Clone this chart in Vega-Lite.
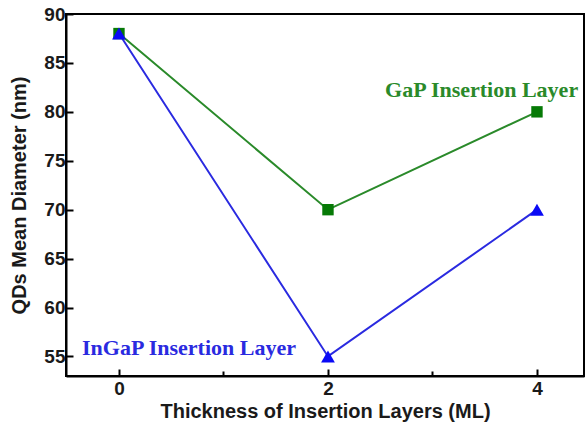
{
  "$schema": "https://vega.github.io/schema/vega-lite/v6.json",
  "autosize": "none",
  "width": 518,
  "height": 362,
  "padding": {"left": 66, "top": 14, "right": 1, "bottom": 52},
  "background": "white",
  "config": {
    "view": {"stroke": "black", "strokeWidth": 2},
    "axis": {
      "grid": false,
      "domainColor": "black",
      "domainWidth": 2,
      "tickColor": "black",
      "tickWidth": 2,
      "labelFont": "Liberation Sans",
      "labelFontWeight": "bold",
      "labelFontSize": 19,
      "labelColor": "#1a1a1a",
      "titleFont": "Liberation Sans",
      "titleFontWeight": "bold",
      "titleFontSize": 20,
      "titleColor": "#1a1a1a"
    }
  },
  "datasets": {
    "series": [
      {"thickness": 0, "diameter": 88, "layer": "GaP"},
      {"thickness": 2, "diameter": 70, "layer": "GaP"},
      {"thickness": 4, "diameter": 80, "layer": "GaP"},
      {"thickness": 0, "diameter": 88, "layer": "InGaP"},
      {"thickness": 2, "diameter": 55, "layer": "InGaP"},
      {"thickness": 4, "diameter": 70, "layer": "InGaP"}
    ],
    "labels": [
      {"thickness": 3.47, "diameter": 82.2, "text": "GaP Insertion Layer", "layer": "GaP"},
      {"thickness": 0.67, "diameter": 55.9, "text": "InGaP Insertion Layer", "layer": "InGaP"}
    ]
  },
  "layer": [
    {
      "data": {"name": "series"},
      "mark": {"type": "line", "strokeWidth": 2},
      "encoding": {
        "x": {
          "field": "thickness", "type": "quantitative",
          "scale": {"domain": [-0.507, 4.45], "nice": false, "zero": false},
          "axis": {
            "values": [0, 1, 2, 3, 4],
            "format": "d",
            "labelExpr": "datum.value % 2 == 0 ? datum.label : ''",
            "tickSize": {"condition": {"test": "datum.value % 2 == 0", "value": -7}, "value": -5},
            "labelPadding": 10,
            "title": "Thickness of Insertion Layers (ML)",
            "titlePadding": 3
          }
        },
        "y": {
          "field": "diameter", "type": "quantitative",
          "scale": {"domain": [53, 90], "nice": false, "zero": false},
          "axis": {
            "values": [55, 57.5, 60, 62.5, 65, 67.5, 70, 72.5, 75, 77.5, 80, 82.5, 85, 87.5, 90],
            "labelExpr": "datum.value % 5 == 0 ? datum.label : ''",
            "tickSize": {"condition": {"test": "datum.value % 5 == 0", "value": -7}, "value": -5},
            "labelPadding": 8,
            "title": "QDs Mean Diameter (nm)",
            "titlePadding": 14
          }
        },
        "color": {
          "field": "layer", "type": "nominal",
          "scale": {"domain": ["GaP", "InGaP"], "range": ["#2a8a2a", "#2a2ae0"]},
          "legend": null
        }
      }
    },
    {
      "data": {"name": "series"},
      "mark": {"type": "point", "filled": true, "opacity": 1},
      "encoding": {
        "x": {"field": "thickness", "type": "quantitative"},
        "y": {"field": "diameter", "type": "quantitative"},
        "color": {
          "field": "layer", "type": "nominal",
          "scale": {"domain": ["GaP", "InGaP"], "range": ["#2a8a2a", "#2a2ae0"]},
          "legend": null
        },
        "fill": {
          "field": "layer", "type": "nominal",
          "scale": {"domain": ["GaP", "InGaP"], "range": ["#067a06", "#0a0af5"]},
          "legend": null
        },
        "shape": {
          "field": "layer", "type": "nominal",
          "scale": {"domain": ["GaP", "InGaP"], "range": ["square", "triangle-up"]},
          "legend": null
        },
        "size": {
          "field": "layer", "type": "nominal",
          "scale": {"domain": ["GaP", "InGaP"], "range": [130, 190]},
          "legend": null
        }
      }
    },
    {
      "data": {"name": "labels"},
      "mark": {"type": "text", "font": "Liberation Serif", "fontWeight": "bold", "fontSize": 22, "align": "center", "baseline": "middle"},
      "encoding": {
        "x": {"field": "thickness", "type": "quantitative"},
        "y": {"field": "diameter", "type": "quantitative"},
        "text": {"field": "text"},
        "color": {
          "field": "layer", "type": "nominal",
          "scale": {"domain": ["GaP", "InGaP"], "range": ["#0a960a", "#0a0af5"]},
          "legend": null
        }
      }
    }
  ]
}
